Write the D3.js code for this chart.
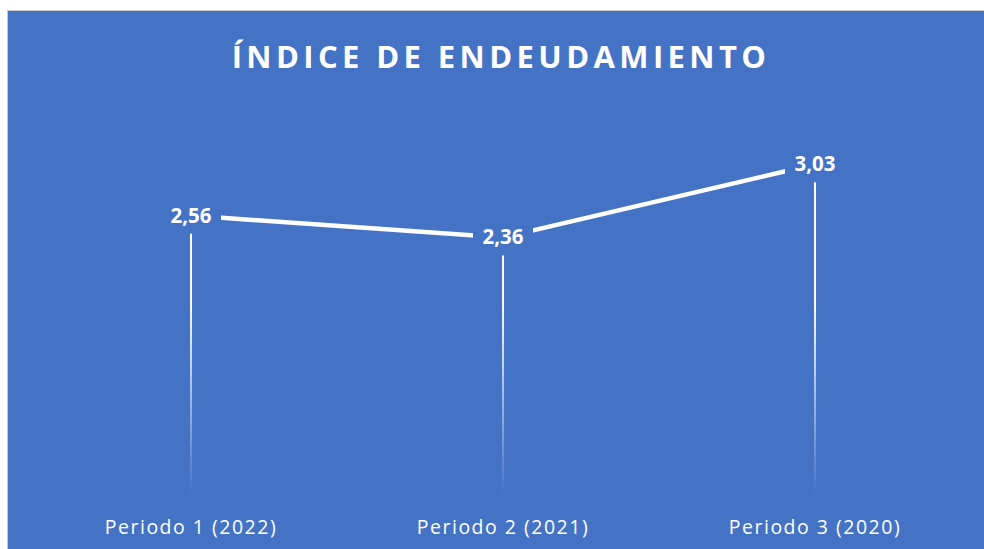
<!DOCTYPE html>
<html>
<head>
<meta charset="utf-8">
<script src="https://cdn.jsdelivr.net/npm/d3@7"></script>
<style>
  body { margin: 0; background: #fff; }
  svg { display: block; }
</style>
</head>
<body>
<div id="chart"></div>
<script>
var categories = ['Periodo 1 (2022)', 'Periodo 2 (2021)', 'Periodo 3 (2020)'];
var values = [2.56, 2.36, 3.03];
var labels = ['2,56', '2,36', '3,03'];
var title = 'ÍNDICE DE ENDEUDAMIENTO';

var width = 984;
var height = 549;
var blue = '#4472C4';

var data = categories.map(function (c, i) {
  return { cat: c, value: values[i], label: labels[i] };
});

var svg = d3.select('#chart')
            .append('svg')
            .attr('width', width)
            .attr('height', height);

// gradient for the drop lines, solid at the top, gone at the bottom
var grad = svg.append('defs')
              .append('linearGradient')
                .attr('id', 'drop')
                .attr('gradientUnits', 'userSpaceOnUse')
                .attr('x1', 0).attr('x2', 0)
                .attr('y1', 300).attr('y2', 495);
grad.append('stop').attr('offset', '0%').attr('stop-color', '#fff').attr('stop-opacity', 1);
grad.append('stop').attr('offset', '100%').attr('stop-color', '#fff').attr('stop-opacity', 0);

// chart area with thin grey border
svg.append('rect')
   .attr('x', 7.5)
   .attr('y', 10.5)
   .attr('width', width)
   .attr('height', height)
   .attr('fill', blue)
   .attr('stroke', '#c8c8c8')
   .attr('stroke-width', 1);

var x = d3.scalePoint()
          .domain(categories)
          .range([35, 971])
          .padding(0.5);

var y = d3.scaleLinear()
          .domain([0, 3.5])
          .range([495, 113]);

// title
svg.append('text')
   .attr('x', 501)
   .attr('y', 68)
   .attr('text-anchor', 'middle')
   .attr('font-family', 'Open Sans')
   .attr('font-weight', 'bold')
   .attr('font-size', 31)
   .attr('letter-spacing', 4.4)
   .attr('fill', '#fff')
   .text(title);

// drop lines
svg.selectAll('.drop')
   .data(data)
   .enter()
   .append('line')
     .attr('class', 'drop')
     .attr('x1', function (d) { return x(d.cat); })
     .attr('x2', function (d) { return x(d.cat); })
     .attr('y1', function (d) { return y(d.value); })
     .attr('y2', y(0))
     .attr('stroke', 'url(#drop)')
     .attr('stroke-width', 2);

var line = d3.line()
             .x(function (d) { return x(d.cat); })
             .y(function (d) { return y(d.value); });

svg.append('path')
   .datum(data)
   .attr('d', line)
   .attr('fill', 'none')
   .attr('stroke', '#fff')
   .attr('stroke-width', 4.5);

// data labels, centred on the points with a blue box behind
var lab = svg.selectAll('.lab')
             .data(data)
             .enter()
             .append('g')
               .attr('class', 'lab')
               .attr('transform', function (d) {
                 return 'translate(' + x(d.cat) + ',' + y(d.value) + ')';
               });

lab.append('rect')
   .attr('x', -30)
   .attr('y', -18)
   .attr('width', 60)
   .attr('height', 36)
   .attr('fill', blue);

lab.append('text')
   .attr('text-anchor', 'middle')
   .attr('y', 7)
   .attr('font-family', 'Open Sans')
   .attr('font-weight', 'bold')
   .attr('font-size', 20.5)
   .attr('fill', '#fff')
   .text(function (d) { return d.label; });

// category axis labels
svg.selectAll('.cat')
   .data(categories)
   .enter()
   .append('text')
     .attr('class', 'cat')
     .attr('x', function (d) { return x(d); })
     .attr('y', 534)
     .attr('text-anchor', 'middle')
     .attr('font-family', 'Open Sans')
     .attr('font-size', 19.5)
     .attr('letter-spacing', 1.5)
     .attr('fill', '#fff')
     .text(function (d) { return d; });
</script>
</body>
</html>
